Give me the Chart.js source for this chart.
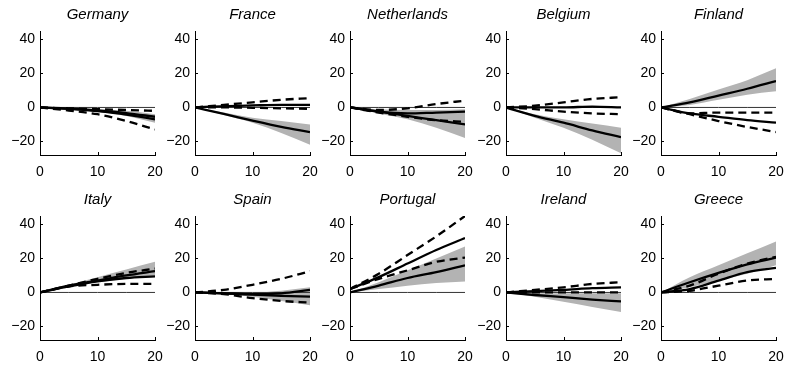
<!DOCTYPE html>
<html lang="en">
<head>
<meta charset="UTF-8">
<title>Impulse responses by country</title>
<script src="https://cdn.jsdelivr.net/npm/chart.js@4.4.0/dist/chart.umd.min.js"></script>
<style>
  body { margin: 0; background: #fff; }
  #grid { position: relative; width: 786px; height: 368px; }
  .panel { position: absolute; width: 175px; height: 184px; }
</style>
</head>
<body>
<div id="grid"></div>
<script>
// quarters after the shock
const horizon = [0, 5, 10, 15, 20];
const xTicks = [0, 10, 20];
const yTicks = [-20, 0, 20, 40];

const countries = ['Germany', 'France', 'Netherlands', 'Belgium', 'Finland',
                   'Italy', 'Spain', 'Portugal', 'Ireland', 'Greece'];

// shaded band: lower / upper bound and median (solid line inside the band)
const bandLow = [
  [0, -1, -2.5, -5, -9],
  [0, -4.5, -9, -15, -22],
  [0, -3.5, -7, -12, -18],
  [0, -6, -12, -19, -27],
  [0, 1.5, 4.5, 7.5, 9.5],
  [0, 3.5, 6, 8, 10],
  [0, -1, -2.5, -5, -7.5],
  [0, 2, 4, 5.5, 6.5],
  [0, -2.5, -5.5, -8.5, -11.5],
  [0, 3, 7, 11, 16]
];
const bandHigh = [
  [0, -0.3, -1, -2, -4],
  [0, -3, -6, -8, -10],
  [0, -1, -1.5, -1.5, -1],
  [0, -4, -7, -9.5, -12],
  [0, 5, 10.5, 16, 23],
  [0, 4.5, 9, 13.5, 18],
  [0, 0, 0, 1, 3],
  [0, 6, 13, 20, 27],
  [0, -0.5, -0.5, -0.5, -0.5],
  [0, 9, 16, 23, 30]
];
const bandMid = [
  [0, -0.7, -1.8, -3.3, -5.5],
  [0, -3.8, -7.8, -11.5, -14.5],
  [0, -2.5, -5, -7.5, -10],
  [0, -5, -9, -13.5, -17.5],
  [0, 3, 7, 11, 15.5],
  [0, 4, 7, 10, 12.5],
  [0, -0.5, -1.2, -2, -2.5],
  [0, 4, 8.5, 12, 16],
  [0, -1.5, -2.8, -4.2, -5.3],
  [0, 6, 11.5, 16.5, 20.5]
];

// second estimate: solid point estimate with dashed bounds
const altMid = [
  [0, -0.8, -2.2, -4.2, -7],
  [0, 0.8, 1.2, 1.5, 1.5],
  [0, -2.5, -3.5, -3, -2.5],
  [0, 0, 0, 0.5, 0],
  [0, -3.5, -5.5, -7.5, -9],
  [0, 3.5, 6.5, 8.5, 9.5],
  [0, -0.5, -1, -0.5, 1.5],
  [2, 9, 17, 25, 32],
  [0, 0.8, 1.5, 2.5, 3],
  [0, 2, 7, 12, 14.5]
];
const altHigh = [
  [0, -0.5, -1, -1.5, -2],
  [0, 1.5, 3, 4.5, 5.5],
  [0, -1.5, -0.5, 2, 4],
  [0, 1, 3, 5, 6],
  [0, -3.5, -3, -3, -3],
  [0, 4, 8, 11.5, 14],
  [0, 1.5, 4.5, 8, 12.5],
  [2, 11, 22, 33, 45],
  [0, 1.5, 3, 5, 6],
  [0, 4, 11, 17, 21]
];
const altLow = [
  [0, -1.8, -4, -8, -13],
  [0, 0, -0.2, -0.5, -0.8],
  [0, -3, -5.5, -7.5, -8.5],
  [0, -1, -2.5, -3.5, -4],
  [0, -4, -8, -11.5, -14.5],
  [0, 3.5, 4.5, 5, 5],
  [0, -1, -3.3, -5, -6],
  [2, 8, 13, 18, 20.5],
  [0, 0, 0, 0, 0],
  [0, 1, 4, 7, 8]
];
const zeroLine = [0, 0, 0, 0, 0];

const pts = arr => horizon.map((h, i) => ({ x: h, y: arr[i] }));

// small tick marks pointing into the plot, matlab style
const inwardTicks = {
  id: 'inwardTicks',
  afterDraw(chart) {
    const { ctx, chartArea: a, scales: { x, y } } = chart;
    ctx.save();
    ctx.strokeStyle = '#000';
    ctx.lineWidth = 1;
    ctx.beginPath();
    yTicks.forEach(v => {
      const p = Math.round(y.getPixelForValue(v)) + 0.5;
      ctx.moveTo(a.left, p); ctx.lineTo(a.left + 3, p);
    });
    xTicks.forEach(v => {
      const p = Math.round(x.getPixelForValue(v)) + 0.5;
      ctx.moveTo(p, a.bottom); ctx.lineTo(p, a.bottom - 3);
    });
    ctx.stroke();
    ctx.restore();
  }
};

const line = (data, dashed, order) => ({
  data: pts(data),
  borderColor: '#000',
  borderWidth: 2.3,
  borderDash: dashed ? [8, 5] : [],
  pointRadius: 0,
  fill: false,
  cubicInterpolationMode: 'monotone',
  order: order
});

const tickFont = { family: 'Liberation Sans, Arial, sans-serif', size: 14 };
const grid = document.getElementById('grid');

countries.forEach((name, k) => {
  const row = Math.floor(k / 5), col = k % 5;
  const box = document.createElement('div');
  box.className = 'panel';
  box.style.left = Math.round(col * 155.2) + 'px';
  box.style.top = (row * 185) + 'px';
  const canvas = document.createElement('canvas');
  box.appendChild(canvas);
  grid.appendChild(box);

  new Chart(canvas, {
    type: 'line',
    data: {
      datasets: [
        { data: pts(bandLow[k]), borderWidth: 0, pointRadius: 0, fill: false,
          cubicInterpolationMode: 'monotone', order: 10 },
        { data: pts(bandHigh[k]), borderWidth: 0, pointRadius: 0, fill: '-1',
          backgroundColor: '#b3b3b3', cubicInterpolationMode: 'monotone', order: 10 },
        { data: pts(zeroLine), borderColor: '#333', borderWidth: 1, pointRadius: 0,
          fill: false, order: 5 },
        line(bandMid[k], false, 1),
        line(altMid[k], false, 1),
        line(altHigh[k], true, 1),
        line(altLow[k], true, 1)
      ]
    },
    options: {
      responsive: true,
      maintainAspectRatio: false,
      animation: false,
      events: [],
      layout: { padding: { left: 0, right: 20, top: 0, bottom: 0 } },
      plugins: {
        legend: { display: false },
        tooltip: { enabled: false },
        title: {
          display: true,
          text: name,
          fullSize: false,
          color: '#000',
          font: { family: 'Liberation Sans, Arial, sans-serif', size: 15, style: 'italic', weight: 'normal', lineHeight: 1.2 },
          padding: { top: 6, bottom: 7 }
        }
      },
      scales: {
        x: {
          type: 'linear',
          min: 0,
          max: 20,
          afterBuildTicks: s => { s.ticks = xTicks.map(v => ({ value: v })); },
          afterFit: s => { s.height = 29; },
          grid: { display: false, drawTicks: false },
          border: { display: true, color: '#000', width: 1 },
          ticks: { color: '#000', padding: 9, maxRotation: 0, font: tickFont }
        },
        y: {
          min: -28,
          max: 45,
          afterBuildTicks: s => { s.ticks = yTicks.map(v => ({ value: v })); },
          afterFit: s => { s.width = 40; },
          grid: { display: false, drawTicks: false },
          border: { display: true, color: '#000', width: 1 },
          ticks: { color: '#000', padding: 5, font: tickFont,
                   callback: v => String(v).replace('-', '\u2212') }
        }
      }
    },
    plugins: [inwardTicks]
  });
});
</script>
</body>
</html>
